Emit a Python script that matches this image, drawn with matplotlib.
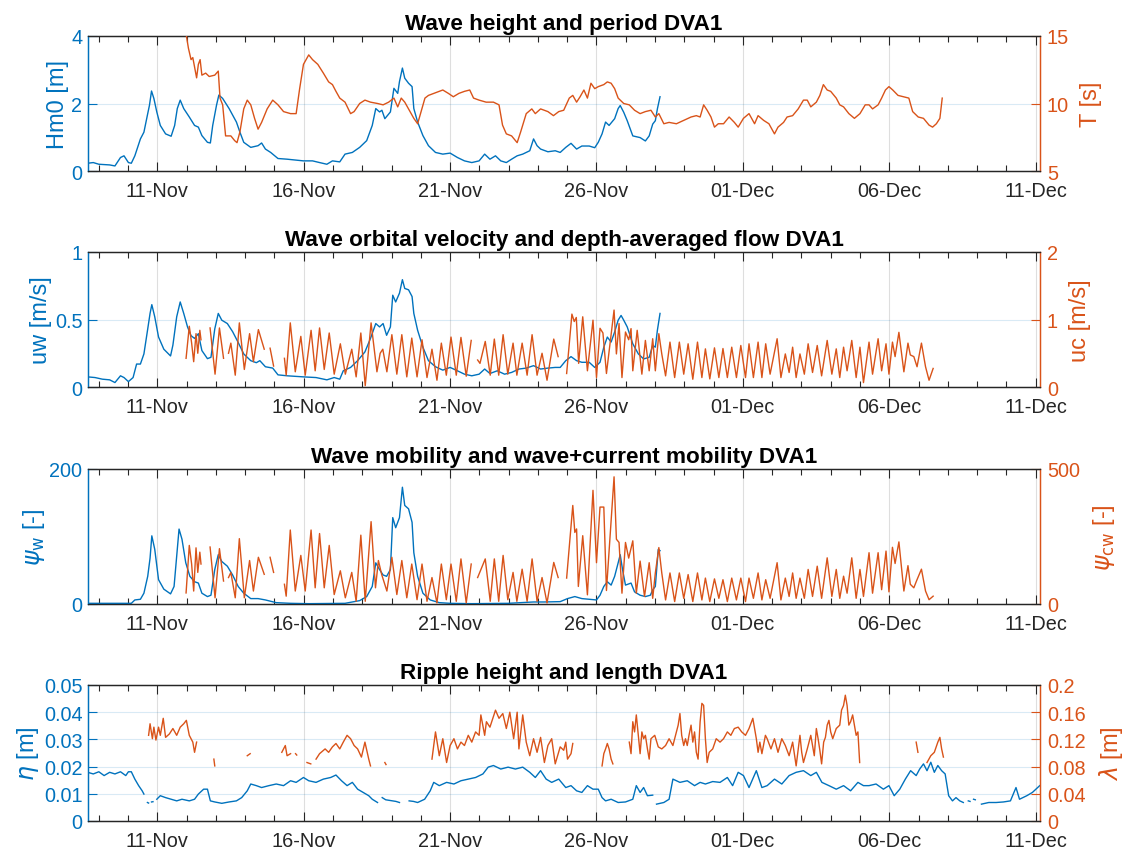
import numpy as np
import matplotlib
matplotlib.use("Agg")
import matplotlib.pyplot as plt
import matplotlib.dates as mdates
from matplotlib.ticker import FixedLocator
from datetime import datetime

plt.rcParams['font.family'] = ['Liberation Sans', 'DejaVu Sans']
plt.rcParams['mathtext.fontset'] = 'dejavusans'

BLUE = '#0072BD'
ORANGE = '#D95319'
DARK = '#262626'
nan = np.nan

# time is given as day-of-November (1 Dec = 31)
X_RANGE = (8.63, 41.15)
MAJOR_DAYS = [11, 16, 21, 26, 31, 36, 41]

# ---------------- panel 1: wave height / period ----------------
HM0 = [(8.62,.23),(8.81,.25),(9.0,.20),(9.37,.18),(9.55,.15),(9.74,.40),(9.86,.45),(10.01,.25),(10.11,.23),(10.23,.45),
       (10.42,.95),(10.54,1.15),(10.67,1.70),(10.73,1.95),(10.80,2.37),(10.88,2.15),(10.98,1.75),(11.10,1.35),
       (11.28,1.10),(11.47,1.03),(11.59,1.35),(11.68,1.85),(11.78,2.10),(11.90,1.85),(12.09,1.60),(12.27,1.35),
       (12.40,1.30),(12.52,1.05),(12.71,.85),(12.81,.83),(12.89,1.35),(13.02,1.95),(13.10,2.25),(13.23,2.15),
       (13.45,1.85),(13.70,1.45),(13.82,1.15),(13.95,.85),(14.19,.70),(14.44,.75),(14.56,.83),(14.69,.65),
       (14.87,.55),(15.12,.37),(15.43,.35),(15.99,.30),(16.30,.30),(16.54,.25),(16.79,.20),(16.98,.30),(17.23,.27),
       (17.41,.50),(17.66,.55),(17.91,.70),(18.15,.90),(18.34,1.35),(18.46,1.85),(18.59,1.75),(18.67,1.80),
       (18.77,1.55),(18.96,1.75),(19.08,2.45),(19.21,2.30),(19.27,2.65),(19.37,3.05),(19.45,2.75),(19.58,2.60),
       (19.70,2.50),(19.76,1.85),(19.89,1.45),(20.07,1.05),(20.26,.75),(20.50,.55),(20.75,.50),(21.0,.53),
       (21.25,.40),(21.49,.30),(21.74,.25),(21.99,.30),(22.18,.50),(22.36,.35),(22.55,.45),(22.73,.30),(22.92,.25),
       (23.10,.35),(23.29,.45),(23.48,.50),(23.72,.60),(23.85,.95),(23.97,.75),(24.09,.65),(24.34,.57),(24.59,.60),
       (24.76,.55),(24.95,.70),(25.13,.82),(25.32,.65),(25.50,.74),(25.75,.74),(25.94,.69),(26.06,.85),(26.19,1.10),
       (26.31,1.45),(26.43,1.35),(26.62,1.55),(26.74,1.85),(26.81,1.94),(26.93,1.74),(27.05,1.49),(27.24,1.04),
       (27.49,.99),(27.67,.89),(27.80,1.04),(27.92,1.39),(28.01,1.49),(28.08,1.84),(28.17,2.20)]

PERIOD = [(11.97,15.3),(12.06,14.1),(12.15,13.25),(12.21,13.4),(12.34,11.9),(12.40,12.9),(12.46,13.25),(12.52,12.1),
          (12.65,12.25),(12.77,12.0),(12.96,12.1),(13.08,12.4),(13.14,10.4),(13.23,9.9),(13.33,7.6),(13.51,7.6),
          (13.64,7.25),(13.72,7.1),(13.82,7.9),(13.95,9.6),(14.07,10.25),(14.19,9.9),(14.32,8.9),(14.44,8.1),
          (14.56,8.6),(14.75,9.6),(14.94,10.25),(15.12,9.9),(15.31,9.4),(15.55,9.25),(15.74,9.25),(15.86,11.1),
          (15.99,12.9),(16.17,13.6),(16.30,13.25),(16.48,12.9),(16.67,12.25),(16.85,11.6),(16.98,11.4),(17.10,10.9),
          (17.23,10.4),(17.41,10.1),(17.60,9.25),(17.72,9.4),(17.91,10.0),(18.09,10.25),(18.28,10.1),(18.52,10.0),
          (18.71,9.9),(18.90,10.1),(19.08,10.4),(19.21,9.75),(19.33,10.4),(19.45,10.1),(19.58,9.6),(19.76,8.9),
          (19.89,8.5),(20.01,9.4),(20.14,10.4),(20.26,10.6),(20.44,10.75),(20.63,10.9),(20.75,11.0),(20.94,10.75),
          (21.11,10.5),(21.30,10.75),(21.49,10.9),(21.67,11.0),(21.80,10.4),(21.99,10.25),(22.23,10.1),(22.48,10.1),
          (22.67,9.9),(22.79,8.4),(22.92,7.75),(23.10,7.6),(23.29,7.1),(23.41,7.9),(23.60,9.25),(23.79,9.6),
          (23.91,9.25),(24.09,9.6),(24.34,9.4),(24.53,9.1),(24.71,9.4),(24.88,9.5),(25.07,10.4),(25.19,10.6),
          (25.32,10.1),(25.44,10.5),(25.57,11.0),(25.69,10.4),(25.81,11.5),(25.94,11.1),(26.06,11.25),(26.25,11.4),
          (26.37,11.6),(26.50,11.5),(26.62,11.1),(26.74,10.4),(26.93,10.0),(27.12,9.9),(27.30,9.5),(27.49,9.25),
          (27.67,9.4),(27.86,9.5),(28.01,9.0),(28.13,9.25),(28.30,8.5),(28.48,8.6),(28.73,8.5),(28.98,8.75),
          (29.23,9.0),(29.41,9.1),(29.54,9.0),(29.66,9.9),(29.78,9.5),(29.91,9.0),(30.03,8.25),(30.16,8.5),
          (30.34,8.5),(30.53,9.0),(30.71,8.6),(30.84,8.25),(31.02,8.9),(31.21,9.25),(31.40,8.5),(31.52,9.1),
          (31.71,8.75),(31.89,8.5),(32.08,7.75),(32.20,8.25),(32.39,8.6),(32.51,9.0),(32.70,9.1),(32.89,9.6),
          (33.07,10.25),(33.20,10.25),(33.32,9.75),(33.51,10.1),(33.63,10.6),(33.75,11.4),(33.88,11.0),(34.00,10.9),
          (34.19,10.4),(34.31,9.9),(34.44,9.75),(34.62,9.25),(34.81,8.9),(35.00,9.25),(35.18,9.9),(35.31,9.9),
          (35.43,9.6),(35.62,9.9),(35.74,10.4),(35.87,11.0),(35.99,11.25),(36.12,11.0),(36.30,10.6),(36.49,10.5),
          (36.67,10.4),(36.80,9.4),(36.99,9.0),(37.17,8.9),(37.36,8.4),(37.48,8.25),(37.61,8.5),(37.73,8.9),
          (37.81,10.4)]

# ---------------- panel 2: orbital velocity / depth-averaged flow ----------------
UW = [(8.62,.075),(8.87,.07),(9.12,.058),(9.37,.053),(9.55,.033),(9.74,.083),(9.86,.07),(10.01,.04),(10.17,.07),
      (10.29,.17),(10.42,.17),(10.54,.245),(10.67,.43),(10.75,.545),(10.81,.61),(10.91,.52),(11.04,.37),(11.22,.28),
      (11.45,.23),(11.53,.31),(11.66,.52),(11.78,.63),(11.90,.545),(12.03,.445),(12.15,.38),(12.27,.36),(12.40,.395),
      (12.52,.27),(12.71,.21),(12.83,.22),(12.96,.43),(13.08,.545),(13.20,.495),(13.39,.47),(13.57,.41),(13.76,.33),
      (13.95,.245),(14.19,.195),(14.38,.18),(14.50,.195),(14.69,.15),(14.94,.14),(15.12,.09),(15.43,.083),
      (15.99,.075),(16.42,.07),(16.79,.053),(17.04,.07),(17.23,.058),(17.35,.12),(17.60,.145),(17.84,.195),
      (18.09,.26),(18.28,.36),(18.46,.47),(18.59,.445),(18.71,.47),(18.83,.383),(18.96,.445),(19.04,.68),
      (19.14,.63),(19.27,.695),(19.37,.795),(19.45,.73),(19.58,.72),(19.70,.67),(19.76,.545),(19.89,.42),
      (20.07,.295),(20.26,.195),(20.50,.15),(20.75,.125),(21.00,.145),(21.25,.12),(21.49,.095),(21.74,.083),
      (21.99,.095),(22.18,.133),(22.36,.10),(22.61,.12),(22.86,.095),(23.10,.108),(23.35,.133),(23.60,.14),
      (23.85,.158),(24.09,.133),(24.34,.14),(24.59,.145),(24.76,.145),(24.95,.195),(25.13,.225),(25.32,.195),
      (25.50,.183),(25.75,.183),(25.94,.145),(26.12,.183),(26.25,.295),(26.37,.37),(26.50,.333),(26.62,.408),
      (26.74,.495),(26.84,.53),(26.93,.495),(27.05,.445),(27.24,.32),(27.43,.245),(27.61,.208),(27.80,.22),
      (27.92,.308),(28.01,.295),(28.08,.42),(28.17,.545)]

UC = [(11.98,.425),(12.09,.90),(12.17,.65),(12.24,.375),(12.32,.79),(12.38,.50),(12.45,.84),(12.49,.70),(12.60,nan),
      (12.80,.875),(12.97,.19),(13.12,.875),(13.26,.425),(13.35,nan),
      (13.43,.50),(13.51,.65),(13.66,.175),(13.80,.95),(13.97,.26),(14.15,.79),(14.28,.375),(14.45,.85),(14.65,.56),(14.75,nan),
      (14.85,.575),(14.97,.31),(15.15,nan),
      (15.34,.425),(15.40,.175),(15.54,.95),(15.71,.225),(15.90,.75),(16.05,.175),(16.25,.84),(16.39,.24),(16.54,.875),
      (16.70,.26),(16.87,.80),(17.04,.19),(17.25,.64),(17.42,.19),(17.64,.56),(17.79,.15),(17.95,.80),(18.10,.02),
      (18.30,.95),(18.50,.225),(18.61,.50),(18.70,.56),(18.84,.225),(19.01,.775),(19.18,.19),(19.35,.775),(19.52,.15),
      (19.69,.725),(19.87,.15),(20.04,.70),(20.21,.14),(20.38,.56),(20.55,.10),(20.70,.65),(20.87,.175),(21.03,.74),
      (21.21,.175),(21.37,.735),(21.55,.16),(21.72,.69),(21.82,nan),
      (21.94,.40),(22.02,.35),(22.20,.675),(22.37,.175),(22.51,.71),(22.66,.175),(22.81,.775),(22.97,.19),(23.15,.65),
      (23.28,.175),(23.46,.65),(23.63,.175),(23.80,.775),(23.97,.175),(24.14,.50),(24.31,.10),(24.54,.71),(24.69,.45),(24.85,nan),
      (24.98,.20),(25.16,1.08),(25.24,.97),(25.31,1.03),(25.39,.35),(25.53,1.04),(25.69,.24),(25.88,.99),(26.00,.14),
      (26.12,.87),(26.22,.80),(26.34,.20),(26.60,1.14),(26.68,.49),(26.77,.94),(26.87,.14),(26.99,.815),(27.10,.70),
      (27.18,.865),(27.24,.24),(27.39,.84),(27.55,.19),(27.67,.69),(27.80,.24),(27.92,.715),(28.01,.24),(28.13,.79),
      (28.23,.49),(28.36,.165),(28.51,.665),(28.67,.14),(28.83,.665),(28.98,.19),(29.13,.64),(29.29,.115),(29.45,.665),
      (29.60,.14),(29.72,.565),(29.87,.12),(30.03,.58),(30.18,.14),(30.32,.57),(30.47,.14),(30.62,.59),(30.78,.14),
      (30.93,.615),(31.09,.14),(31.21,.64),(31.36,.14),(31.52,.665),(31.65,.14),(31.78,.64),(31.93,.19),(32.17,.715),
      (32.30,.14),(32.45,.49),(32.58,.215),(32.70,.59),(32.82,.14),(32.95,.49),(33.10,.19),(33.23,.64),(33.38,.215),
      (33.54,.615),(33.69,.165),(33.88,.69),(34.04,.19),(34.19,.565),(34.31,.14),(34.44,.59),(34.56,.24),(34.72,.69),
      (34.87,.14),(35.00,.59),(35.12,.065),(35.31,.665),(35.43,.19),(35.62,.715),(35.74,.24),(35.89,.64),(35.99,.19),
      (36.11,.665),(36.20,.45),(36.33,.81),(36.50,.225),(36.64,.65),(36.72,.475),(36.84,.45),(36.95,.30),(37.10,.65),
      (37.24,.30),(37.36,.10),(37.50,.275)]

# ---------------- panel 3: mobility numbers ----------------
PSI_W = [(8.62,1),(10.11,1),(10.23,6),(10.42,7),(10.54,16),(10.67,41),(10.75,68),(10.81,101),(10.91,81),(11.04,36),
         (11.22,22),(11.45,15),(11.57,26),(11.67,76),(11.74,111),(11.84,96),(11.97,61),(12.11,41),(12.27,33),
         (12.40,31),(12.52,16),(12.71,11),(12.83,13),(12.96,51),(13.08,73),(13.20,63),(13.39,56),(13.57,43),
         (13.76,26),(13.95,16),(14.19,8),(14.44,8),(14.69,6),(15.06,2),(15.55,1),(16.17,0.5),(17.41,1),(17.91,5),
         (18.15,11),(18.34,26),(18.46,61),(18.59,51),(18.71,43),(18.83,41),(18.96,51),(19.04,128),(19.14,113),
         (19.27,128),(19.37,173),(19.45,146),(19.58,141),(19.70,121),(19.76,76),(19.89,41),(20.07,16),(20.32,6),
         (20.63,2),(21.0,1),(21.74,0.5),(22.98,1),(23.85,3),(24.22,3),(24.76,3.5),(25.01,8),(25.26,11),(25.50,8),
         (25.75,7),(26.0,6),(26.12,13),(26.25,26),(26.37,33),(26.50,28),(26.62,41),(26.74,61),(26.81,73),(26.89,51),
         (26.99,28),(27.18,31),(27.30,18),(27.49,13),(27.67,11),(27.84,13),(27.92,21),(28.01,26),(28.11,81),(28.17,79)]

PSI_CW = [(11.98,41),(12.09,217),(12.17,148),(12.24,48),(12.32,208),(12.38,117),(12.45,192),(12.49,148),(12.60,nan),
          (12.80,211),(12.97,23),(13.12,205),(13.26,85),(13.35,nan),
          (13.43,98),(13.51,117),(13.66,23),(13.80,242),(13.97,23),(14.15,161),(14.28,48),(14.45,173),(14.65,110),(14.75,nan),
          (14.85,173),(14.97,117),(15.15,nan),
          (15.34,73),(15.40,29),(15.54,274),(15.71,48),(15.90,180),(16.05,48),(16.25,274),(16.39,60),(16.54,261),
          (16.70,60),(16.87,217),(17.04,35),(17.25,123),(17.42,23),(17.64,117),(17.79,10),(17.95,255),(18.10,10),
          (18.30,305),(18.45,60),(18.55,161),(18.66,110),(18.84,48),(19.01,173),(19.18,35),(19.35,161),(19.52,23),
          (19.69,148),(19.87,16),(20.04,148),(20.21,10),(20.38,98),(20.55,4),(20.70,148),(20.87,16),(21.03,148),
          (21.21,10),(21.37,167),(21.55,4),(21.72,148),(21.82,nan),
          (21.94,98),(22.20,167),(22.37,10),(22.51,167),(22.66,10),(22.81,180),(22.97,16),(23.15,117),(23.28,10),
          (23.46,129),(23.63,10),(23.80,167),(23.97,10),(24.14,98),(24.31,4),(24.54,154),(24.69,98),(24.85,nan),
          (24.98,96),(25.19,365),(25.26,265),(25.32,278),(25.38,65),(25.53,253),(25.69,34),(25.88,421),(26.00,153),
          (26.12,359),(26.25,359),(26.34,50),(26.60,471),(26.68,240),(26.77,228),(26.87,40),(26.99,228),(27.10,170),
          (27.24,234),(27.36,40),(27.49,159),(27.64,28),(27.80,153),(27.92,21),(28.01,115),(28.13,209),(28.23,115),
          (28.36,15),(28.51,115),(28.67,9),(28.83,115),(28.98,21),(29.13,109),(29.29,9),(29.45,115),(29.60,15),
          (29.72,96),(29.87,9),(30.03,93),(30.18,21),(30.32,90),(30.47,9),(30.62,96),(30.78,15),(30.93,96),(31.09,9),
          (31.21,96),(31.36,21),(31.52,115),(31.65,15),(31.78,90),(31.93,21),(32.17,153),(32.30,15),(32.45,96),
          (32.58,28),(32.70,115),(32.82,21),(32.95,96),(33.10,21),(33.23,128),(33.38,28),(33.54,140),(33.69,21),
          (33.88,171),(34.04,28),(34.19,128),(34.31,21),(34.44,103),(34.56,40),(34.72,171),(34.87,21),(35.00,128),
          (35.12,28),(35.31,190),(35.43,40),(35.62,190),(35.74,53),(35.89,196),(35.99,45),(36.11,210),(36.20,150),
          (36.33,230),(36.50,48),(36.64,142),(36.72,73),(36.84,60),(36.93,85),(37.10,129),(37.24,48),(37.36,16),(37.50,29)]

# ---------------- panel 4: ripple height / length ----------------
ETA = [(8.62,.0179),(8.81,.0173),(9.0,.0181),(9.18,.0167),(9.37,.0179),(9.55,.0173),(9.74,.0181),(9.92,.0167),
       (10.01,.0181),(10.11,.0181),(10.23,.0154),(10.36,.0130),(10.48,.0111),(10.54,.0099),(10.60,nan),(10.66,.0068),
       (10.70,.0066),(10.73,nan),(10.80,.0070),(10.85,.0071),(10.90,nan),(10.98,.0080),(11.10,.0093),(11.28,.0086),
       (11.47,.0080),(11.66,.0074),(11.84,.0080),(12.09,.0074),(12.27,.0080),(12.40,.0099),(12.58,.0117),(12.71,.0117),
       (12.81,.0074),(12.96,.0070),(13.20,.0065),(13.45,.0070),(13.70,.0074),(13.88,.0086),(14.07,.0111),(14.19,.0136),
       (14.38,.0130),(14.56,.0123),(14.81,.0130),(15.06,.0136),(15.31,.0130),(15.55,.0148),(15.74,.0142),(15.99,.0160),
       (16.17,.0148),(16.42,.0142),(16.67,.0154),(16.92,.0160),(17.10,.0169),(17.29,.0148),(17.48,.0130),(17.66,.0142),
       (17.84,.0117),(18.03,.0105),(18.22,.0093),(18.34,.0080),(18.52,.0068),(18.60,nan),(18.68,.0086),(18.80,.0078),
       (19.02,.0074),(19.15,.0072),(19.27,.0068),(19.40,nan),(19.60,.0074),(19.75,.0072),(19.89,.0068),(20.13,.0080),
       (20.32,.0111),(20.44,.0142),(20.63,.0130),(20.88,.0142),(21.13,.0136),(21.37,.0148),(21.62,.0154),(21.87,.0160),
       (22.12,.0173),(22.30,.0198),(22.48,.0204),(22.73,.0191),(22.98,.0198),(23.23,.0191),(23.48,.0198),(23.72,.0179),
       (23.91,.0160),(24.09,.0185),(24.28,.0154),(24.47,.0142),(24.71,.0154),(24.95,.0123),(25.13,.0130),(25.32,.0111),
       (25.50,.0105),(25.69,.0130),(25.88,.0117),(26.06,.0117),(26.19,.0086),(26.31,.0074),(26.50,.0080),(26.74,.0068),
       (26.99,.0070),(27.24,.0080),(27.36,.0130),(27.49,.0105),(27.61,.0123),(27.74,.0093),(27.92,.0095),(27.98,nan),
       (28.05,.0062),(28.30,.0068),(28.48,.0080),(28.61,.0154),(28.85,.0142),(29.10,.0148),(29.35,.0130),(29.54,.0142),
       (29.72,.0136),(29.97,.0145),(30.22,.0142),(30.47,.0160),(30.65,.0130),(30.84,.0179),(31.02,.0167),(31.21,.0123),
       (31.46,.0185),(31.65,.0123),(31.83,.0130),(32.08,.0154),(32.33,.0136),(32.58,.0167),(32.82,.0179),(33.07,.0185),
       (33.32,.0167),(33.51,.0179),(33.70,.0142),(33.94,.0130),(34.19,.0117),(34.44,.0130),(34.68,.0111),(34.93,.0142),
       (35.12,.0130),(35.31,.0130),(35.55,.0136),(35.80,.0117),(35.99,.0130),(36.17,.0093),(36.36,.0117),(36.55,.0154),
       (36.73,.0185),(36.92,.0167),(37.04,.0191),(37.17,.0210),(37.29,.0185),(37.42,.0216),(37.54,.0179),(37.66,.0204),
       (37.79,.0185),(37.91,.0173),(38.03,.0093),(38.16,.0074),(38.28,.0086),(38.41,.0074),(38.53,.0068),(38.62,nan),
       (38.70,.0074),(38.76,.0072),(38.82,nan),(38.88,.0080),(38.94,.0078),(39.05,nan),(39.15,.0062),(39.40,.0068),
       (39.65,.0068),(39.90,.0070),(40.14,.0074),(40.33,.0123),(40.45,.0080),(40.70,.0093),(40.89,.0105),(41.14,.0130),
       (41.32,.0142)]

LAMBDA = [(10.70,.126),(10.75,.143),(10.83,.121),(10.88,.138),(10.95,.119),(11.04,.138),(11.10,.126),(11.20,.151),
          (11.28,.123),(11.41,.128),(11.53,.136),(11.66,.126),(11.78,.138),(11.90,.143),(11.99,.148),(12.09,.126),
          (12.21,.116),(12.27,.101),(12.34,.116),(12.40,nan),(12.93,.091),(12.96,.081),(13.0,nan),(14.07,.096),
          (14.17,.099),(14.2,nan),(15.25,.101),(15.37,.111),(15.43,.096),(15.55,.099),(15.6,nan),(15.72,.099),
          (15.76,.097),(15.8,nan),(16.11,.086),(16.24,.084),(16.3,nan),(16.42,.091),(16.54,.099),(16.73,.106),
          (16.85,.101),(16.98,.109),(17.10,.114),(17.23,.106),(17.35,.116),(17.48,.126),(17.60,.121),(17.72,.111),
          (17.84,.106),(17.97,.094),(18.09,.116),(18.22,.091),(18.28,.081),(18.4,nan),(18.77,.086),(18.81,.083),
          (18.9,nan),(20.38,.091),(20.50,.131),(20.63,.096),(20.75,.121),(20.88,.086),(21.0,.111),(21.13,.121),
          (21.25,.106),(21.37,.116),(21.49,.111),(21.62,.126),(21.74,.116),(21.87,.131),(21.99,.126),(22.05,.156),
          (22.18,.126),(22.24,.146),(22.36,.138),(22.55,.163),(22.67,.151),(22.80,.158),(22.92,.136),(23.04,.160),
          (23.17,.121),(23.29,.160),(23.35,.106),(23.48,.156),(23.60,.116),(23.72,.096),(23.85,.121),(23.97,.101),
          (24.09,.123),(24.22,.086),(24.34,.111),(24.47,.121),(24.59,.084),(24.76,.109),(24.88,.104),(24.95,.116),
          (25.01,.091),(25.13,.099),(25.19,.114),(25.25,nan),(26.19,.081),(26.25,.099),(26.31,.106),(26.37,.114),
          (26.43,.106),(26.50,.091),(26.56,.084),(26.7,nan),(27.12,.116),(27.18,.099),(27.24,.146),(27.30,.131),
          (27.36,.156),(27.43,.126),(27.49,.099),(27.55,.131),(27.61,.121),(27.67,.126),(27.74,.106),(27.80,.091),
          (27.86,.121),(27.99,.126),(28.11,.109),(28.23,.106),(28.36,.111),(28.48,.121),(28.61,.111),(28.70,.126),
          (28.79,.141),(28.85,.158),(28.91,.126),(28.98,.111),(29.04,.121),(29.10,.111),(29.16,.126),(29.23,.141),
          (29.29,.116),(29.35,.131),(29.41,.101),(29.47,.091),(29.54,.146),(29.60,.173),(29.66,.170),(29.72,.121),
          (29.78,.086),(29.85,.101),(29.97,.106),(30.09,.121),(30.22,.116),(30.34,.121),(30.47,.131),(30.59,.126),
          (30.71,.136),(30.84,.138),(30.96,.131),(31.09,.126),(31.21,.136),(31.34,.151),(31.46,.121),(31.52,.101),
          (31.58,.116),(31.65,.099),(31.77,.126),(31.83,.121),(31.96,.106),(32.08,.121),(32.20,.101),(32.33,.121),
          (32.45,.111),(32.58,.096),(32.70,.116),(32.82,.081),(32.95,.126),(33.01,.101),(33.07,.086),(33.20,.106),
          (33.32,.126),(33.44,.096),(33.51,.136),(33.57,.121),(33.63,.104),(33.69,.084),(33.76,.116),(33.82,.123),
          (33.88,.141),(33.94,.148),(34.00,.131),(34.07,.121),(34.19,.136),(34.31,.141),(34.37,.163),(34.44,.170),
          (34.50,.185),(34.56,.170),(34.62,.141),(34.68,.146),(34.75,.156),(34.81,.141),(34.87,.126),(34.93,.131),
          (34.99,.086),(35.1,nan),(36.92,.116),(36.98,.101),(37.1,nan),(37.29,.086),(37.42,.096),(37.54,.101),
          (37.66,.116),(37.73,.123),(37.79,.106),(37.85,.094)]

TITLES = ['Wave height and period DVA1',
          'Wave orbital velocity and depth-averaged flow DVA1',
          'Wave mobility and wave+current mobility DVA1',
          'Ripple height and length DVA1']
LEFT_LABELS = ['Hm0 [m]', 'uw [m/s]', r'$\psi_{\mathrm{w}}$ [-]', r'$\eta$ [m]']
RIGHT_LABELS = ['T [s]', 'uc [m/s]', r'$\psi_{\mathrm{cw}}$ [-]', r'$\lambda$ [m]']
LEFT_TICKS = [[0, 2, 4], [0, 0.5, 1], [0, 200], [0, 0.01, 0.02, 0.03, 0.04, 0.05]]
LEFT_TICKLABELS = [['0', '2', '4'], ['0', '0.5', '1'], ['0', '200'],
                   ['0', '0.01', '0.02', '0.03', '0.04', '0.05']]
RIGHT_TICKS = [[5, 10, 15], [0, 1, 2], [0, 500], [0, 0.04, 0.08, 0.12, 0.16, 0.2]]
RIGHT_TICKLABELS = [['5', '10', '15'], ['0', '1', '2'], ['0', '500'],
                    ['0', '0.04', '0.08', '0.12', '0.16', '0.2']]
LEFT_LIMS = [(0, 4), (0, 1), (0, 200), (0, 0.05)]
RIGHT_LIMS = [(5, 15), (0, 2), (0, 500), (0, 0.2)]
LEFT_SERIES = [HM0, UW, PSI_W, ETA]
RIGHT_SERIES = [PERIOD, UC, PSI_CW, LAMBDA]

T0 = mdates.date2num(datetime(2019, 11, 1))


def to_num(days):
    return T0 + np.asarray(days, dtype=float) - 1.0


def unpack(pairs):
    arr = np.array(pairs, dtype=float)
    return to_num(arr[:, 0]), arr[:, 1]


FS = 14.3
FS_LABEL = 17
FS_TITLE = 16.2

W, H = 1132, 854
# (top, bottom) of each axes box in pixels
BOXES = [(37, 172), (253, 388), (470, 605), (686, 822)]
LEFT_PX, RIGHT_PX = 88, 1040

fig = plt.figure(figsize=(W / 100, H / 100), dpi=100)

for i in range(4):
    top, bot = BOXES[i]
    ax = fig.add_axes([LEFT_PX / W, 1 - bot / H, (RIGHT_PX - LEFT_PX) / W, (bot - top) / H])
    ax2 = ax.twinx()

    x, y = unpack(LEFT_SERIES[i])
    ax.plot(x, y, color=BLUE, lw=1.0, zorder=3)
    x, y = unpack(RIGHT_SERIES[i])
    ax2.plot(x, y, color=ORANGE, lw=1.0, zorder=3)

    # x axis: labelled every five days, minor ticks daily
    ax.set_xlim(to_num(X_RANGE[0]), to_num(X_RANGE[1]))
    ax.xaxis.set_major_locator(FixedLocator(to_num(MAJOR_DAYS)))
    ax.xaxis.set_minor_locator(FixedLocator(to_num(np.arange(9, 42))))
    ax.xaxis.set_major_formatter(mdates.DateFormatter('%d-%b'))
    ax.tick_params(axis='x', which='major', direction='in', length=6.5, width=0.8,
                   top=True, bottom=True, color=DARK, labelcolor=DARK, labelsize=FS, pad=7.5)
    ax.tick_params(axis='x', which='minor', direction='in', length=4, width=0.8,
                   top=True, bottom=True, color=DARK)

    ax.set_ylim(*LEFT_LIMS[i])
    ax.set_yticks(LEFT_TICKS[i])
    ax.set_yticklabels(LEFT_TICKLABELS[i])
    ax.tick_params(axis='y', direction='in', length=6.5, width=0.8, color=BLUE,
                   labelcolor=BLUE, labelsize=FS, pad=4)

    ax2.set_ylim(*RIGHT_LIMS[i])
    ax2.set_yticks(RIGHT_TICKS[i])
    ax2.set_yticklabels(RIGHT_TICKLABELS[i])
    ax2.tick_params(axis='y', direction='in', length=6.5, width=0.8, color=ORANGE,
                    labelcolor=ORANGE, labelsize=FS, pad=5)

    for a in (ax, ax2):
        a.spines['top'].set_color(DARK)
        a.spines['bottom'].set_color(DARK)
        a.spines['left'].set_color(BLUE)
        a.spines['right'].set_color(ORANGE)
        for s in a.spines.values():
            s.set_linewidth(0.9)

    ax.grid(axis='x', which='major', color=DARK, alpha=0.15, lw=0.8)
    ax.grid(axis='y', which='major', color=BLUE, alpha=0.15, lw=0.8)
    ax.set_axisbelow(True)

    ax.set_ylabel(LEFT_LABELS[i], color=BLUE, fontsize=FS_LABEL, labelpad=2)
    ax2.set_ylabel(RIGHT_LABELS[i], color=ORANGE, fontsize=FS_LABEL, rotation=90, labelpad=8)
    ax.set_title(TITLES[i], fontsize=FS_TITLE, fontweight='bold', color='black', pad=5)

fig.savefig('out.png', dpi=100)
